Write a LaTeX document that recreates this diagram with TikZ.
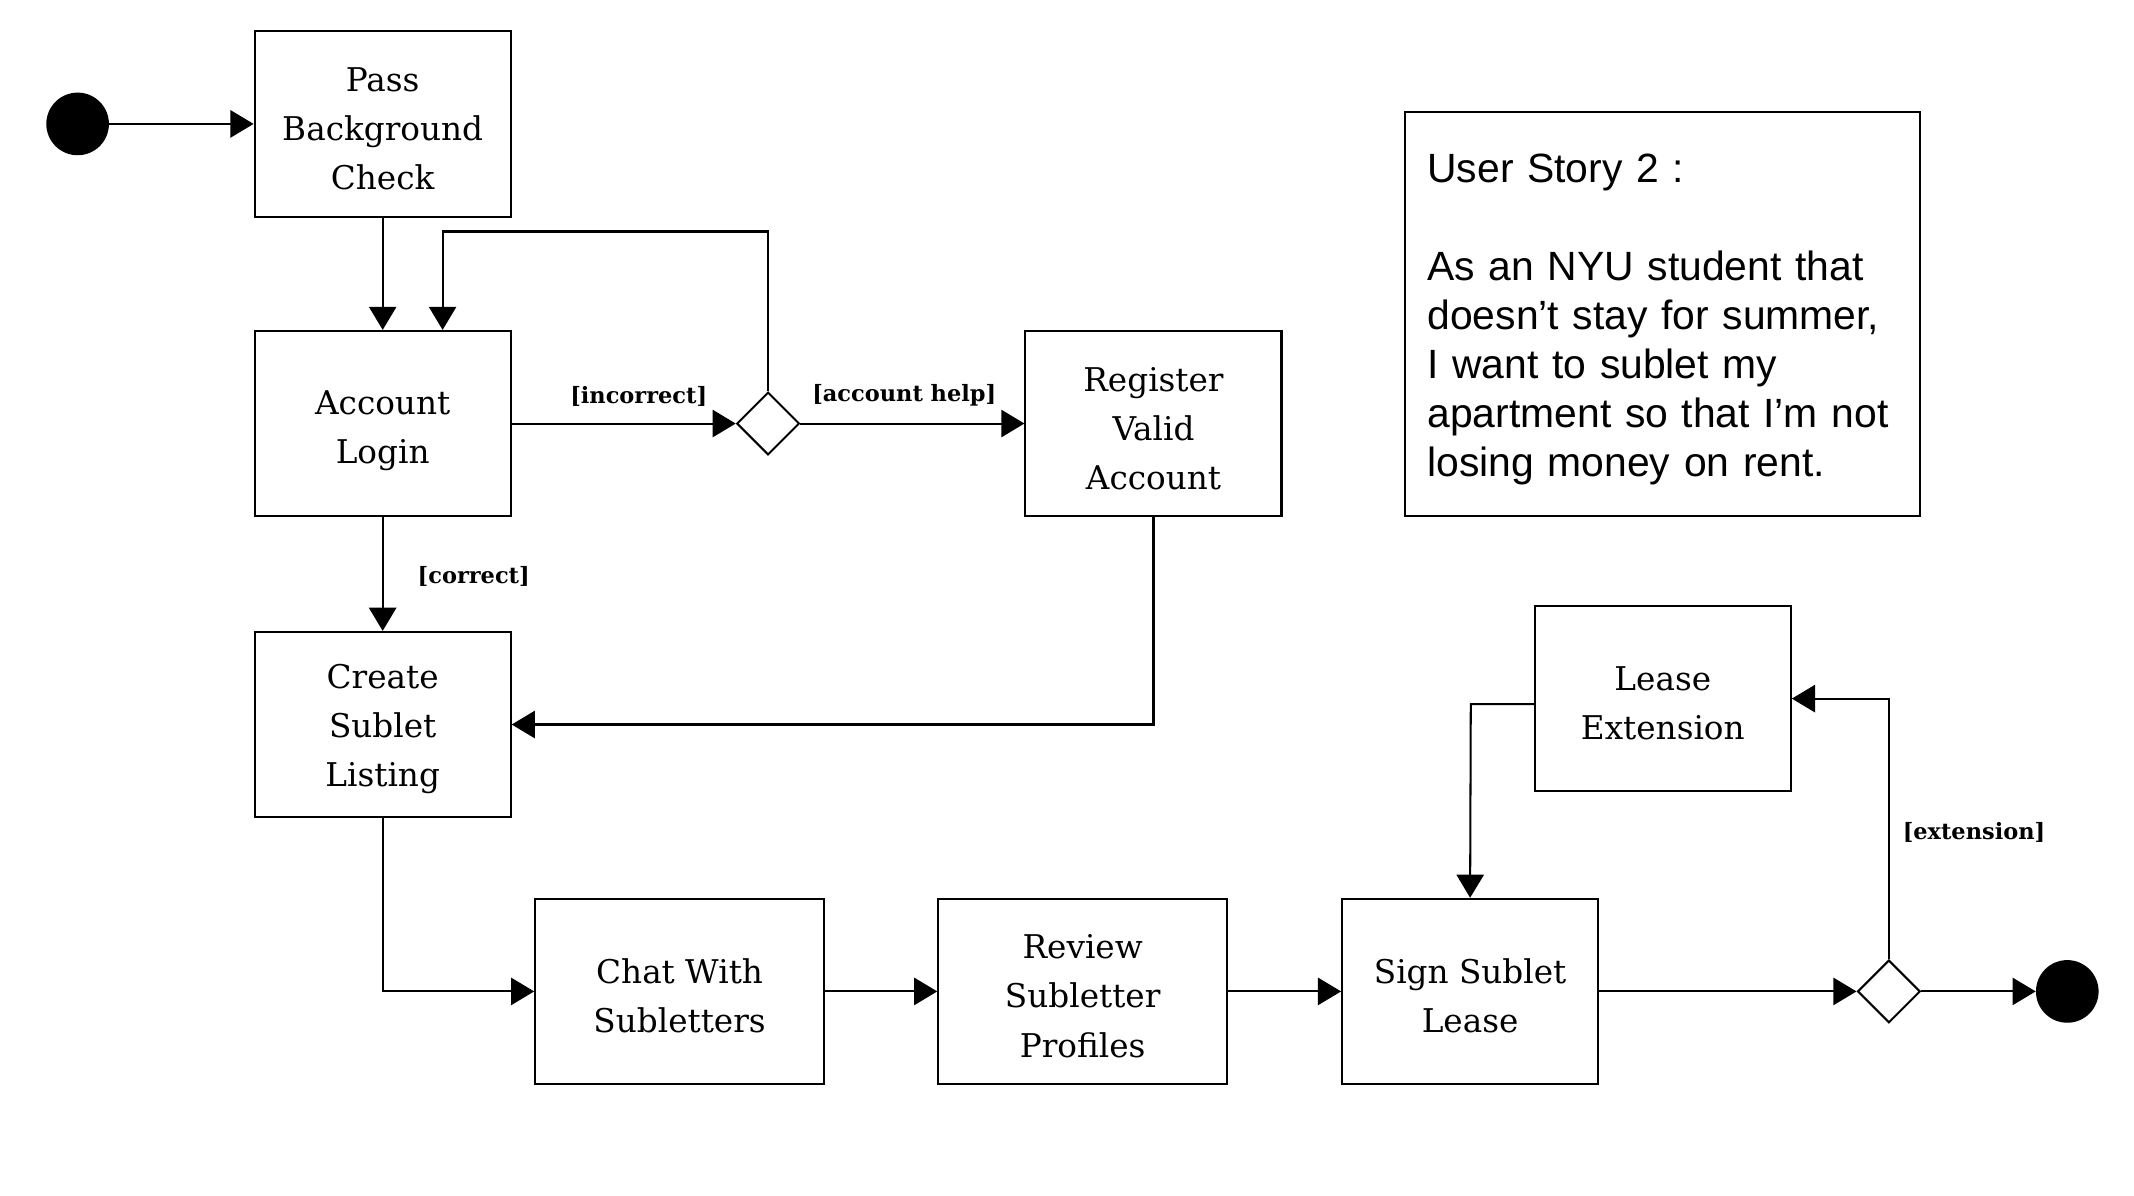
\documentclass[tikz,border=0pt]{standalone}
\usepackage{fontspec}
\setmainfont{DejaVu Serif}
\newfontfamily\storyfont{Liberation Sans}
\usetikzlibrary{arrows.meta,shapes.geometric}
\tikzset{
  stepbox/.style={draw, line width=1.5pt, minimum width=188pt, minimum height=136pt, inner sep=0pt},
  widebox/.style={stepbox, minimum width=212pt},
  boxtext/.style={align=center, inner sep=0pt, font=\fontsize{24}{36}\selectfont, yshift=-3.5pt},
  txt/.style={label={[boxtext]center:#1}},
  decide/.style={draw, diamond, line width=1.5pt, minimum width=46pt, minimum height=46pt, inner sep=0pt, fill=white},
  dot/.style={circle, fill=black, minimum size=46pt, inner sep=0pt},
  arr/.style={line width=1.5pt, -{Triangle[length=17pt,width=20pt]}},
  lbl/.style={font=\bfseries\fontsize{16.5}{19}\selectfont, inner sep=0pt}
}
\begin{document}
\begin{tikzpicture}[x=1pt,y=-1pt]
\useasboundingbox (0,0) rectangle (1567,878);
\node[dot] (start) at (57,91) {};
\node[stepbox, txt={Pass\\Background\\Check}] (pass) at (281,91) {};
\node[stepbox, label={[boxtext, yshift=-2pt]center:Account\\Login}] (login) at (281,311) {};
\node[decide] (d1) at (564,311) {};
\node[stepbox, txt={Register\\Valid\\Account}] (reg) at (847,311) {};
\node[stepbox, txt={Create\\Sublet\\Listing}] (create) at (281,532) {};
\node[widebox, txt={Chat With\\Subletters}] (chat) at (499,728) {};
\node[widebox, txt={Review\\Subletter\\Profiles}] (review) at (795,728) {};
\node[stepbox, txt={Sign Sublet\\Lease}] (sign) at (1079.5,728) {};
\node[stepbox, txt={Lease\\Extension}] (lease) at (1221,513) {};
\node[decide] (d2) at (1387,728) {};
\node[dot] (end) at (1518,728) {};
\node[draw, line width=1.5pt, minimum width=378pt, minimum height=297pt, inner sep=0pt] (story) at (1221,230.5) {};
\node[anchor=north west, inner sep=0pt, text width=350pt, align=left, font=\storyfont\fontsize{30}{36}\selectfont] (storytext) at (1048,113) {User Story 2 :\\[36pt]As an NYU student that\\doesn’t stay for summer,\\I want to sublet my\\apartment so that I’m not\\losing money on rent.};
\coordinate (loopa) at (325,170);
\coordinate (loopb) at (1080,517);
\draw[arr] (start) -- (pass);
\draw[arr] (pass) -- (login);
\draw[arr] (d1.north) |- (loopa) -- (loopa |- login.north);
\draw[arr] (login) -- node[lbl, above=12pt, xshift=11pt]{[incorrect]} (d1);
\draw[arr] (d1) -- node[lbl, above=12pt, xshift=-6pt]{[account help]} (reg);
\draw[arr] (login) -- node[lbl, right=25pt, yshift=-2pt]{[correct]} (create);
\draw[arr] (reg.south) |- (create.east);
\draw[arr] (create.south) |- (chat.west);
\draw[arr] (chat) -- (review);
\draw[arr] (review) -- (sign);
\draw[arr] (sign) -- (d2);
\draw[arr] (d2) -- (end);
\draw[arr] (d2.north) |- (lease.east);
\draw[arr] (loopb -| lease.west) -- (loopb) -- (sign.north);
\node[lbl, anchor=west] (extlbl) at (1397,611) {[extension]};
\end{tikzpicture}
\end{document}
